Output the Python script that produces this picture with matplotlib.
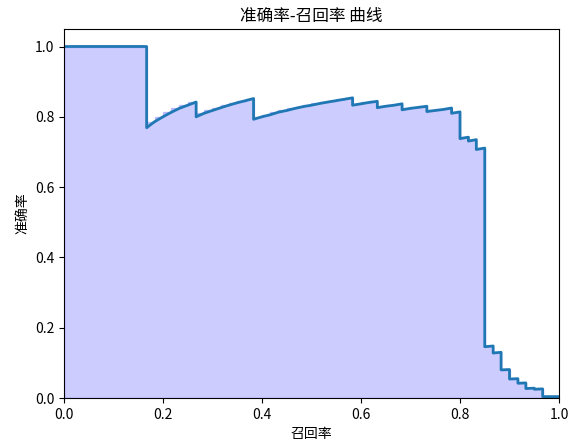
import matplotlib
matplotlib.use("Agg")
import matplotlib.pyplot as plt

plt.rcParams['font.family'] = ['Noto Sans CJK SC', 'DejaVu Sans']
plt.rcParams['axes.unicode_minus'] = False

# ── Données (rappel croissant) ────────────────────────────
recall = [0.0, 0.167, 0.167, 0.183, 0.200, 0.217, 0.233, 0.250, 0.267,
          0.267, 0.283, 0.300, 0.317, 0.333, 0.350, 0.367, 0.383,
          0.383, 0.400, 0.417, 0.433, 0.450, 0.467, 0.483, 0.500, 0.517,
          0.533, 0.550, 0.567, 0.583,
          0.583, 0.600, 0.617, 0.633,
          0.633, 0.650, 0.667, 0.683,
          0.683, 0.700, 0.717, 0.733,
          0.733, 0.750, 0.767, 0.783,
          0.783, 0.800,
          0.800, 0.817, 0.817, 0.833, 0.833, 0.850,
          0.850, 0.867, 0.867, 0.883, 0.883, 0.900, 0.900, 0.917,
          0.917, 0.933, 0.933, 0.950, 0.950, 0.967, 0.967, 1.000]
precision = [1.0, 1.0, 0.769, 0.786, 0.800, 0.813, 0.824, 0.833, 0.842,
             0.800, 0.810, 0.818, 0.826, 0.833, 0.840, 0.846, 0.852,
             0.793, 0.800, 0.806, 0.813, 0.818, 0.824, 0.829, 0.833, 0.838,
             0.842, 0.846, 0.850, 0.854,
             0.833, 0.837, 0.841, 0.844,
             0.826, 0.830, 0.833, 0.837,
             0.820, 0.824, 0.827, 0.830,
             0.815, 0.818, 0.821, 0.825,
             0.810, 0.814,
             0.738, 0.742, 0.731, 0.735, 0.707, 0.711,
             0.146, 0.148, 0.128, 0.130, 0.080, 0.081, 0.054, 0.055,
             0.042, 0.043, 0.027, 0.028, 0.025, 0.026, 0.004, 0.004]

# ── Tracé ─────────────────────────────────────────────────
fig, ax = plt.subplots(figsize=(5.71, 4.45), dpi=100)
fig.subplots_adjust(left=0.112, right=0.979, top=0.935, bottom=0.1056)

ax.fill_between(recall, precision, step='pre', alpha=0.2, color='b')
ax.plot(recall, precision, color='tab:blue', lw=2)

ax.set_xlim(0.0, 1.0)
ax.set_ylim(0.0, 1.05)
ax.set_xlabel('召回率')
ax.set_ylabel('准确率')
ax.set_title('准确率-召回率 曲线')

plt.savefig("out.png", dpi=100)
